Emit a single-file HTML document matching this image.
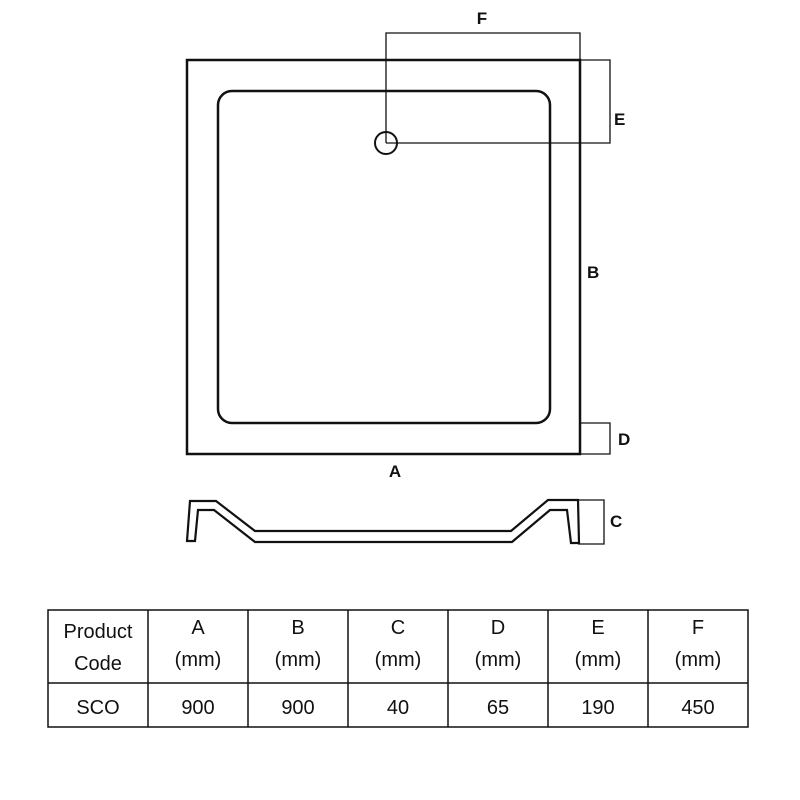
<!DOCTYPE html>
<html><head><meta charset="utf-8"><style>
html,body{margin:0;padding:0;background:#fff;width:800px;height:800px;overflow:hidden}
</style></head><body>
<svg width="800" height="800" viewBox="0 0 800 800" xmlns="http://www.w3.org/2000/svg">
<g fill="none" stroke="#111">
<rect x="187" y="60" width="393" height="394" stroke-width="2.5"/>
<rect x="218" y="91" width="332" height="332" rx="14" stroke-width="2.5"/>
<circle cx="386" cy="143" r="11" stroke-width="2"/>
<polyline points="386,143 386,33 580,33 580,60" stroke-width="1.3"/>
<polyline points="386,143 610,143 610,60 580,60" stroke-width="1.3"/>
<polyline points="580,423 610,423 610,454 580,454" stroke-width="1.3"/>
<polyline points="578,500 604,500 604,544 578,544" stroke-width="1.3"/>
<polygon points="187,541 190,501 216,501 255,531 511,531 548,500 578,500 579,543 571,543 567,510 550,510 512,542 255,542 214,510 198,510 195,541" stroke-width="2.2" stroke-linejoin="miter"/>
</g>
<g font-family="Liberation Sans, sans-serif" font-weight="bold" font-size="17" fill="#111">
<text x="482" y="24" text-anchor="middle">F</text>
<text x="614" y="125">E</text>
<text x="587" y="278">B</text>
<text x="618" y="445">D</text>
<text x="395" y="477" text-anchor="middle">A</text>
<text x="610" y="527">C</text>
</g>
<g stroke="#111" stroke-width="1.5" fill="none">
<rect x="48" y="610" width="700" height="117"/>
<line x1="48" y1="683" x2="748" y2="683"/>
<line x1="148" y1="610" x2="148" y2="727"/>
<line x1="248" y1="610" x2="248" y2="727"/>
<line x1="348" y1="610" x2="348" y2="727"/>
<line x1="448" y1="610" x2="448" y2="727"/>
<line x1="548" y1="610" x2="548" y2="727"/>
<line x1="648" y1="610" x2="648" y2="727"/>
</g>
<g font-family="Liberation Sans, sans-serif" font-size="20" fill="#111" text-anchor="middle">
<text x="98" y="638">Product</text><text x="98" y="670">Code</text>
<text x="198" y="634">A</text><text x="198" y="666">(mm)</text>
<text x="298" y="634">B</text><text x="298" y="666">(mm)</text>
<text x="398" y="634">C</text><text x="398" y="666">(mm)</text>
<text x="498" y="634">D</text><text x="498" y="666">(mm)</text>
<text x="598" y="634">E</text><text x="598" y="666">(mm)</text>
<text x="698" y="634">F</text><text x="698" y="666">(mm)</text>
<text x="98" y="714">SCO</text>
<text x="198" y="714">900</text>
<text x="298" y="714">900</text>
<text x="398" y="714">40</text>
<text x="498" y="714">65</text>
<text x="598" y="714">190</text>
<text x="698" y="714">450</text>
</g>
</svg>
</body></html>
